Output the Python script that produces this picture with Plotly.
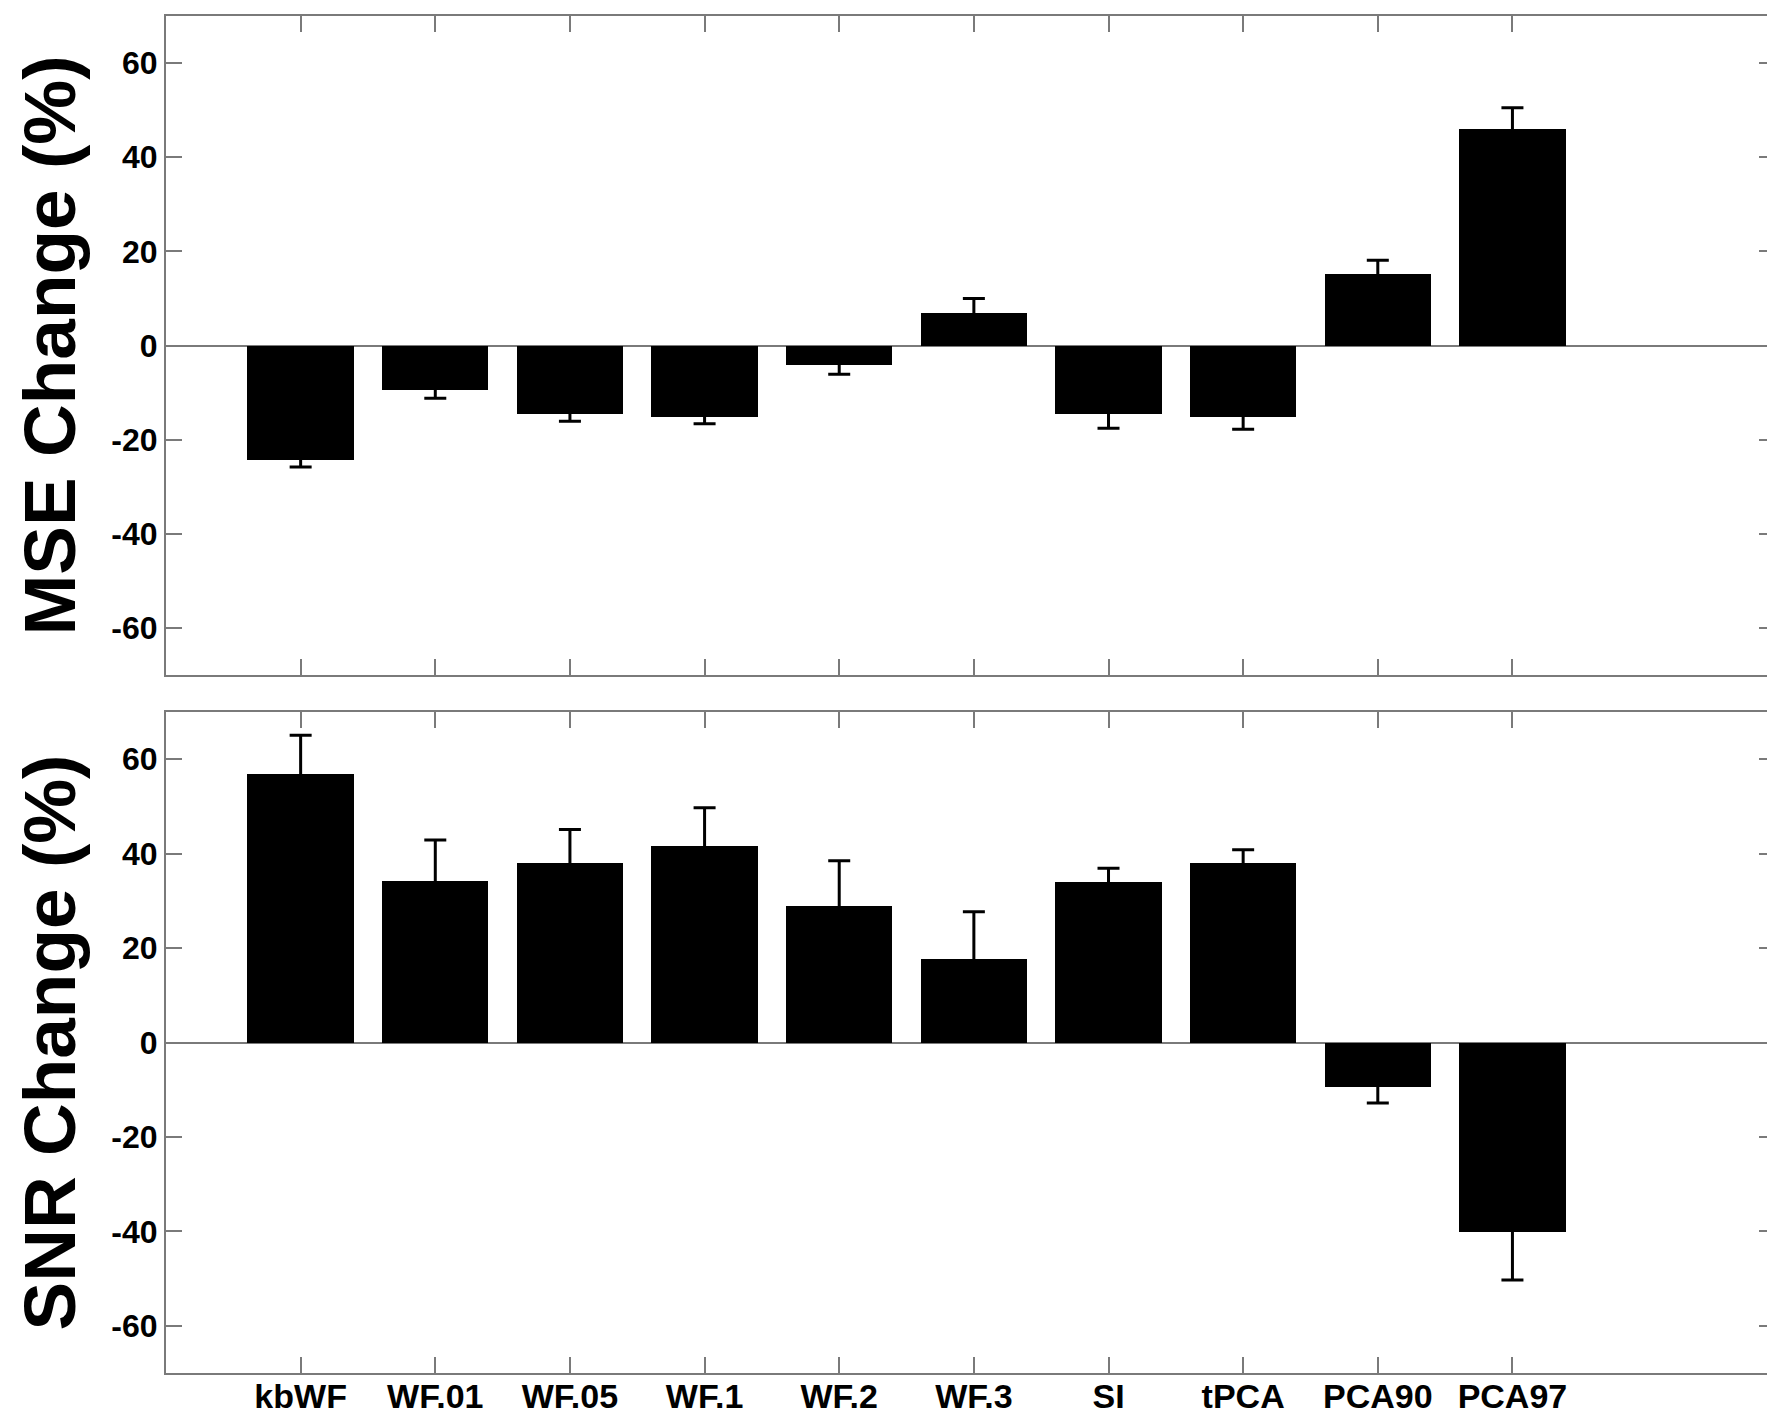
import plotly.graph_objects as go

categories = ["kbWF", "WF.01", "WF.05", "WF.1", "WF.2", "WF.3", "SI", "tPCA", "PCA90", "PCA97"]
mse_change = [-24.3, -9.5, -14.6, -15.1, -4.1, 7.0, -14.6, -15.1, 15.1, 46.1]
mse_err = [1.5, 1.7, 1.5, 1.5, 2.0, 3.0, 3.0, 2.7, 3.0, 4.4]
snr_change = [56.9, 34.2, 38.1, 41.7, 28.9, 17.6, 34.0, 38.1, -9.4, -40.2]
snr_err = [8.2, 8.7, 7.0, 8.0, 9.6, 10.1, 2.9, 2.7, 3.4, 10.1]
y_ticks = [-60, -40, -20, 0, 20, 40, 60]
y_ticktext = ["-60", "-40", "-20", "0", "20", "40", "60"]

xpos = list(range(1, len(categories) + 1))

# page has an 8px body margin; figure is sized/positioned to compensate
OFF = 8
W, H = 1775 - OFF, 1416 - OFF
L, R, T = 166 - OFF, 0, 16 - OFF
AX_BOTTOM = 1373 - OFF
B = H - AX_BOTTOM
FONT = "Liberation Sans, Arial, sans-serif"
GRAY = "#7a7a7a"

fig = go.Figure()
# error bars first (drawn beneath the bars, like the original)
for vals, errs, xa, ya in [(mse_change, mse_err, "x2", "y2"), (snr_change, snr_err, "x", "y")]:
    fig.add_trace(go.Scatter(
        x=xpos, y=vals, xaxis=xa, yaxis=ya, mode="markers",
        marker=dict(size=1, color="rgba(0,0,0,0)"),
        error_y=dict(type="data", array=errs, color="black", thickness=3, width=11),
        showlegend=False, hoverinfo="skip",
    ))
for vals, xa, ya in [(mse_change, "x2", "y2"), (snr_change, "x", "y")]:
    fig.add_trace(go.Bar(
        x=xpos, y=vals, xaxis=xa, yaxis=ya, width=0.79,
        marker=dict(color="black", line=dict(width=0)),
        showlegend=False,
    ))

plot_h = H - T - B
top_lo = (AX_BOTTOM - (675 - OFF)) / plot_h
bot_hi = (AX_BOTTOM - (712 - OFF)) / plot_h

common_x = dict(range=[0, 11.95], tickvals=xpos, ticks="inside", ticklen=16, tickwidth=2,
                tickcolor=GRAY, showline=True, linecolor=GRAY, linewidth=2, mirror="ticks",
                showgrid=False, zeroline=False, fixedrange=True)
common_y = dict(range=[-70, 70], tickvals=y_ticks, ticktext=y_ticktext, ticks="inside",
                ticklen=16, tickwidth=2,
                tickcolor=GRAY, showline=True, linecolor=GRAY, linewidth=2, mirror="ticks",
                showgrid=False, zeroline=True, zerolinecolor=GRAY, zerolinewidth=2,
                tickfont=dict(family=FONT, size=32, color="black", weight="bold"))

fig.update_layout(
    width=W, height=H,
    margin=dict(l=L, r=R, t=T, b=B, autoexpand=False),
    paper_bgcolor="white", plot_bgcolor="white",
    bargap=0,
    xaxis=dict(**common_x, anchor="y", domain=[0, 1], ticktext=categories,
               ticklabelstandoff=-8,
               tickfont=dict(family=FONT, size=34, color="black", weight="bold")),
    xaxis2=dict(**common_x, anchor="y2", domain=[0, 1], matches="x", showticklabels=False),
    yaxis=dict(**common_y, anchor="x", domain=[0, bot_hi]),
    yaxis2=dict(**common_y, anchor="x2", domain=[top_lo, 1]),
)

plot_w = W - L - R
tx = (49 - OFF - L) / plot_w
for txt, cy in [("MSE Change (%)", 345.5), ("SNR Change (%)", 1042.5)]:
    fig.add_annotation(text=txt, xref="paper", yref="paper", x=tx,
                       y=(AX_BOTTOM - (cy - OFF)) / plot_h,
                       xanchor="center", yanchor="middle", textangle=-90, showarrow=False,
                       font=dict(family=FONT, size=73, color="black", weight="bold"))

fig.write_html("out.html")
